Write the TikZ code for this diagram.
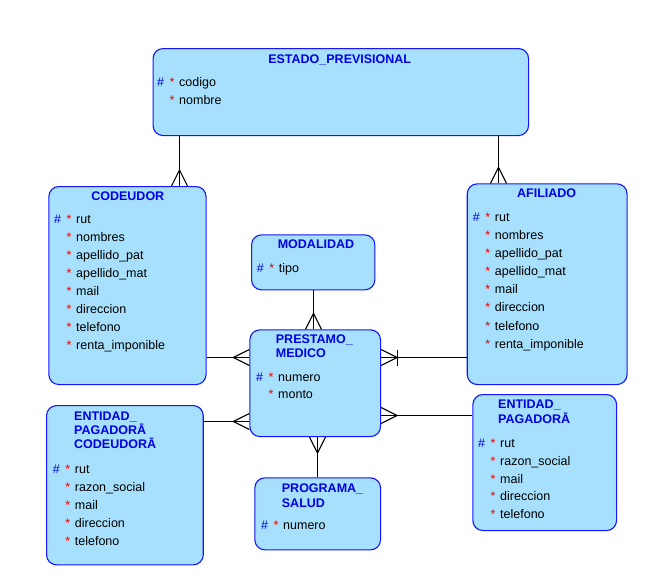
\documentclass[tikz,border=0pt]{standalone}
\usepackage{fontspec}
\setmainfont{Liberation Sans}
\usetikzlibrary{calc}
\definecolor{boxfill}{RGB}{166,224,252}
\definecolor{boxline}{RGB}{20,20,255}
\definecolor{titleblue}{RGB}{0,0,230}
\definecolor{starred}{RGB}{235,0,0}
\tikzset{
  entbox/.style={draw=boxline, fill=boxfill, line width=1.1pt, rounded corners=10pt, inner sep=0pt, anchor=north west},
  ttl/.style={font=\fontsize{12.5}{14}\selectfont\bfseries, text=titleblue, inner sep=0pt, anchor=base},
  ttlw/.style={ttl, anchor=base west},
  txt/.style={font=\fontsize{12.5}{14}\selectfont, inner sep=0pt, anchor=base west},
  hsh/.style={txt, text=titleblue},
  str/.style={txt, text=starred},
  conn/.style={draw=black, line width=1.1pt},
}
\newcommand\entity[5]{\node[entbox, minimum width={(#4-#2)*1pt}, minimum height={(#5-#3)*1pt}] (#1) at (#2,#3) {};}
\newcommand\pkrow[4]{\node[hsh] (#1h) at (#2,#3) {\#};\node[str] (#1s) at (#2+12.5,#3) {*};\node[txt] (#1) at (#2+22,#3) {#4};}
\newcommand\atrow[4]{\node[str] (#1s) at (#2+12.5,#3) {*};\node[txt] (#1) at (#2+22,#3) {#4};}
\newcommand\crowtop[1]{\draw[conn] ($(#1)+(-8,0)$) -- ($(#1)+(0,-16)$) -- ($(#1)+(8,0)$);}
\newcommand\crowbottom[1]{\draw[conn] ($(#1)+(-8,0)$) -- ($(#1)+(0,16)$) -- ($(#1)+(8,0)$);}
\newcommand\crowleft[1]{\draw[conn] ($(#1)+(0,-8)$) -- ($(#1)+(-16,0)$) -- ($(#1)+(0,8)$);}
\newcommand\crowright[1]{\draw[conn] ($(#1)+(0,-8)$) -- ($(#1)+(16,0)$) -- ($(#1)+(0,8)$);}
\begin{document}
\begin{tikzpicture}[x=1pt,y=-1pt]
\fill[white] (0,0) rectangle (666,584);
\useasboundingbox (0,0) rectangle (666,584);

% boxes
\entity{ep}{152.5}{48}{528}{135}
\entity{cod}{48.3}{186}{205.5}{384}
\entity{afi}{466.7}{183.3}{626.5}{384}
\entity{mod}{251}{234.3}{374.3}{289.3}
\entity{pre}{249.3}{329.3}{380}{436}
\entity{prg}{254.3}{477.3}{380}{549.3}
\entity{epc}{46}{405}{202.7}{564.3}
\entity{epa}{472.3}{394}{616}{530}

% ESTADO_PREVISIONAL
\node[ttl] (ept) at (339.7,63) {ESTADO\_PREVISIONAL};
\pkrow{ep1}{157}{86}{codigo}
\atrow{ep2}{157}{104}{nombre}

% CODEUDOR
\node[ttl] (codt) at (127.8,200) {CODEUDOR};
\pkrow{cod1}{54}{223}{rut}
\atrow{cod2}{54}{241}{nombres}
\atrow{cod3}{54}{259}{apellido\_pat}
\atrow{cod4}{54}{277}{apellido\_mat}
\atrow{cod5}{54}{295}{mail}
\atrow{cod6}{54}{313}{direccion}
\atrow{cod7}{54}{331}{telefono}
\atrow{cod8}{54}{349}{renta\_imponible}

% AFILIADO
\node[ttl] (afit) at (546.7,197) {AFILIADO};
\pkrow{afi1}{472.7}{221}{rut}
\atrow{afi2}{472.7}{239}{nombres}
\atrow{afi3}{472.7}{257}{apellido\_pat}
\atrow{afi4}{472.7}{275}{apellido\_mat}
\atrow{afi5}{472.7}{293}{mail}
\atrow{afi6}{472.7}{311}{direccion}
\atrow{afi7}{472.7}{330}{telefono}
\atrow{afi8}{472.7}{348}{renta\_imponible}

% MODALIDAD
\node[ttl] (modt) at (316,248) {MODALIDAD};
\pkrow{mod1}{256.7}{272}{tipo}

% PRESTAMO_MEDICO
\node[ttlw] (pret1) at (275.7,343) {PRESTAMO\_};
\node[ttlw] (pret2) at (275.7,357) {MEDICO};
\pkrow{pre1}{256}{381}{numero}
\atrow{pre2}{256}{398}{monto}

% PROGRAMA_SALUD
\node[ttlw] (prgt1) at (281.7,492) {PROGRAMA\_};
\node[ttlw] (prgt2) at (281.7,507) {SALUD};
\pkrow{prg1}{261}{529}{numero}

% ENTIDAD_PAGADORA_CODEUDORA
\node[ttlw] (epct1) at (74,420) {ENTIDAD\_};
\node[ttlw] (epct2) at (74,434.5) {PAGADORĀ};
\node[ttlw] (epct3) at (74,448.5) {CODEUDORĀ};
\pkrow{epc1}{52.7}{473}{rut}
\atrow{epc2}{52.7}{491}{razon\_social}
\atrow{epc3}{52.7}{509}{mail}
\atrow{epc4}{52.7}{527}{direccion}
\atrow{epc5}{52.7}{545}{telefono}

% ENTIDAD_PAGADORA
\node[ttlw] (epat1) at (498,408) {ENTIDAD\_};
\node[ttlw] (epat2) at (498,423) {PAGADORĀ};
\pkrow{epa1}{478}{447}{rut}
\atrow{epa2}{478}{465}{razon\_social}
\atrow{epa3}{478}{483}{mail}
\atrow{epa4}{478}{500}{direccion}
\atrow{epa5}{478}{518}{telefono}

% connectors
% ESTADO_PREVISIONAL - CODEUDOR
\coordinate (k1a) at ($(ep.south west)+(27,0)$);
\coordinate (k1b) at (k1a |- cod.north);
\draw[conn] (k1a) -- (k1b);
\crowtop{k1b}
% ESTADO_PREVISIONAL - AFILIADO
\coordinate (k2a) at ($(ep.south west)+(346,0)$);
\coordinate (k2b) at (k2a |- afi.north);
\draw[conn] (k2a) -- (k2b);
\crowtop{k2b}
% MODALIDAD - PRESTAMO
\coordinate (k3a) at ($(mod.south west)+(62.5,0)$);
\coordinate (k3b) at (k3a |- pre.north);
\draw[conn] (k3a) -- (k3b);
\crowtop{k3b}
% CODEUDOR - PRESTAMO
\coordinate (k4a) at ($(cod.north east)+(0,171.5)$);
\coordinate (k4b) at (k4a -| pre.west);
\draw[conn] (k4a) -- (k4b);
\crowleft{k4b}
% PRESTAMO - AFILIADO
\coordinate (k5a) at ($(pre.north east)+(0,28.2)$);
\coordinate (k5b) at (k5a -| afi.west);
\draw[conn] (k5a) -- (k5b);
\crowright{k5a}
\draw[conn] ($(k5a)+(16.5,-8)$) -- ($(k5a)+(16.5,8)$);
% ENTIDAD_PAGADORA_CODEUDORA - PRESTAMO
\coordinate (k6a) at ($(epc.north east)+(0,16.5)$);
\coordinate (k6b) at (k6a -| pre.west);
\draw[conn] (k6a) -- (k6b);
\crowleft{k6b}
% PRESTAMO - ENTIDAD_PAGADORA
\coordinate (k7a) at ($(pre.north east)+(0,86.2)$);
\coordinate (k7b) at (k7a -| epa.west);
\draw[conn] (k7a) -- (k7b);
\crowright{k7a}
% PRESTAMO - PROGRAMA_SALUD
\coordinate (k8a) at ($(pre.south west)+(68.2,0)$);
\coordinate (k8b) at (k8a |- prg.north);
\draw[conn] (k8a) -- (k8b);
\crowbottom{k8a}
\end{tikzpicture}
\end{document}
